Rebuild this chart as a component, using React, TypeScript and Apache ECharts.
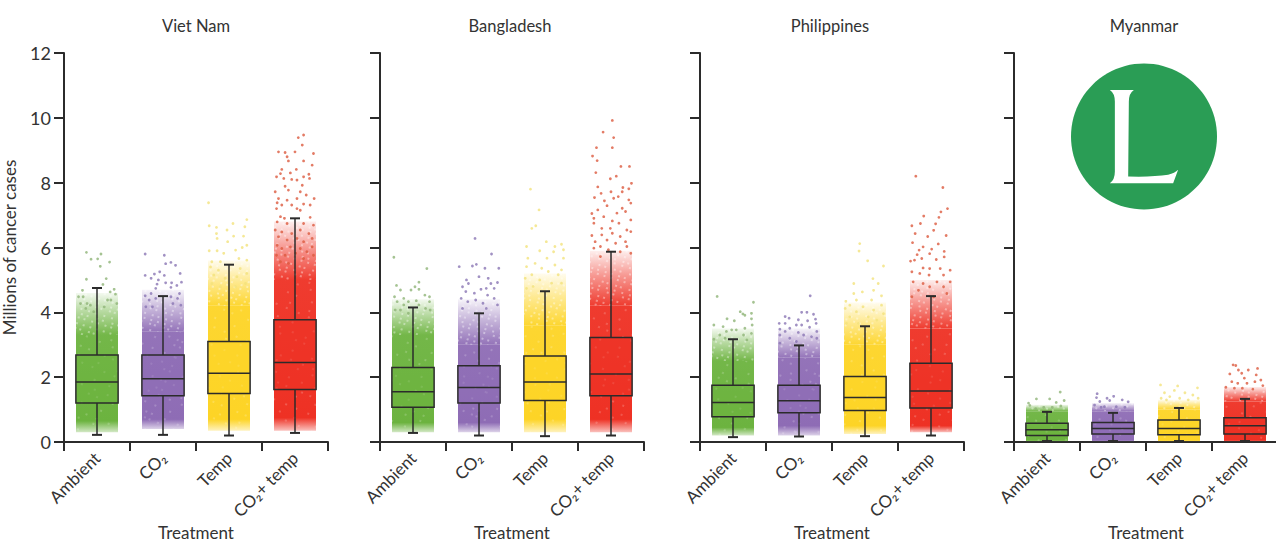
import React, { useEffect, useRef } from "react";
import * as echarts from "echarts";

const countries = ["Viet Nam", "Bangladesh", "Philippines", "Myanmar"];
const treatments = ["Ambient", "CO₂", "Temp", "CO₂+ temp"];
const yTickMax = 12;

// whisker low, Q1, median, Q3, whisker high
const boxesVietNam = [[0.22, 1.2, 1.85, 2.68, 4.75], [0.22, 1.43, 1.95, 2.68, 4.5], [0.2, 1.5, 2.12, 3.1, 5.47], [0.28, 1.62, 2.45, 3.77, 6.9]];
const boxesBangladesh = [[0.28, 1.07, 1.55, 2.3, 4.15], [0.2, 1.2, 1.68, 2.35, 3.97], [0.18, 1.28, 1.85, 2.65, 4.65], [0.2, 1.43, 2.1, 3.22, 5.87]];
const boxesPhilippines = [[0.15, 0.78, 1.22, 1.75, 3.17], [0.17, 0.9, 1.27, 1.75, 2.98], [0.18, 0.97, 1.37, 2.02, 3.57], [0.2, 1.05, 1.57, 2.43, 4.5]];
const boxesMyanmar = [[0.03, 0.2, 0.38, 0.58, 0.93], [0.03, 0.25, 0.42, 0.6, 0.9], [0.03, 0.22, 0.42, 0.68, 1.05], [0.03, 0.25, 0.5, 0.75, 1.33]];

// dense part of each cloud: lowest dots, start of solid colour, end of solid colour, end of dense dots
const denseVietNam = [[0.3, 0.65, 3.3, 4.6], [0.4, 0.7, 3.4, 4.7], [0.35, 0.7, 4.2, 5.6], [0.35, 0.75, 5.0, 6.8]];
const denseBangladesh = [[0.3, 0.6, 3.3, 4.4], [0.3, 0.6, 3.0, 4.4], [0.3, 0.7, 3.6, 5.2], [0.3, 0.7, 4.2, 5.9]];
const densePhilippines = [[0.2, 0.45, 2.5, 3.5], [0.2, 0.5, 2.6, 3.5], [0.25, 0.5, 3.0, 4.3], [0.3, 0.5, 3.5, 5.0]];
const denseMyanmar = [[0.02, 0.05, 0.95, 1.15], [0.02, 0.05, 0.95, 1.2], [0.02, 0.05, 1.0, 1.3], [0.02, 0.05, 1.25, 1.7]];

// separate dots: [sideways offset in the band, value]
const dotsVietNam = [
  [[-.16,5.85],[.06,5.8],[-.09,5.64],[.01,5.65],[.19,5.55],[.05,5.42],[-.16,5.02],[.14,5.04],[.09,4.86],[-.22,4.68],[.26,4.71],[.2,4.63],[.28,4.56],[-.28,4.48],[-.21,4.48],[.16,4.38],[.3,4.27],[-.25,4.27],[-.15,4.27],[.11,4.17],[-.17,4.12],[-.05,4.02],[.21,4.38],[-.1,4.22]],
  [[-.27,5.8],[.02,5.76],[.04,5.5],[.12,5.54],[.19,5.45],[-.05,5.25],[.26,5.2],[-.27,5.14],[-.13,5.18],[-.18,5.05],[.02,5.14],[-.07,5.0],[-.09,4.87],[.04,4.91],[.13,4.91],[.28,4.93],[.21,4.83],[-.27,4.51],[-.18,4.58],[-.11,4.74],[.12,4.77],[.25,4.58],[-.21,4.38],[.22,4.43],[-.11,4.43],[.12,4.48],[-.26,4.17],[.27,4.22],[-.16,4.17],[.15,4.27]],
  [[-.31,7.38],[-.3,6.67],[.27,6.86],[.06,6.74],[.24,6.64],[-.19,6.62],[-.19,6.43],[-.03,6.54],[-.18,6.28],[.07,6.35],[.22,6.35],[-.02,6.18],[.27,6.07],[-.3,5.9],[-.18,5.9],[.1,5.92],[.2,6.0],[-.08,5.82],[.15,5.66],[-.26,5.56],[.27,5.61],[-.13,5.56],[-.28,5.4],[-.16,5.3],[.17,5.35],[.27,5.2],[-.23,5.15],[-.06,5.05],[.12,5.1],[.25,4.89],[-.26,4.89],[-.13,4.79],[.1,4.79]],
  [[.13,9.47],[.05,9.39],[.11,9.16],[-.25,8.95],[-.15,8.93],[0,8.95],[.28,8.9],[-.12,8.8],[-.1,8.67],[.13,8.67],[.26,8.54],[-.2,8.41],[.02,8.41],[-.22,8.28],[-.28,8.18],[-.07,8.3],[.21,8.26],[.13,8.18],[.22,8.13],[-.05,8.1],[.03,8.08],[-.17,8.13],[-.15,7.89],[.11,7.92],[-.3,7.72],[-.1,7.77],[.08,7.72],[.17,7.62],[-.25,7.51],[-.12,7.46],[.29,7.51],[.03,7.51],[-.27,7.38],[-.2,7.31],[-.05,7.31],[.13,7.34],[.23,7.31],[-.28,7.2],[.03,7.2],[.08,7.15],[-.22,6.95],[-.16,6.9],[.23,6.93],[-.27,6.79],[-.12,6.74],[.13,6.74],[.28,6.69],[-.3,6.54],[-.2,6.48],[-.05,6.43],[.08,6.54],[.21,6.43],[.26,6.28],[-.25,6.33],[-.12,6.23],[.03,6.28],[.13,6.18],[-.27,6.07],[-.2,5.97],[-.07,6.02],[.26,6.02],[.08,5.97],[.18,5.87],[-.28,5.76],[-.15,5.76],[.01,5.82],[.28,5.76],[-.22,5.56],[.13,5.66],[-.1,5.51]],
];
const dotsBangladesh = [
  [[-.29,5.7],[.21,5.35],[.09,4.93],[-.25,4.83],[.03,4.79],[-.19,4.69],[-.03,4.69],[.09,4.71],[.18,4.53],[.25,4.48],[-.28,4.48],[-.14,4.43],[.05,4.36],[-.24,4.33],[-.07,4.33],[.25,4.33],[-.14,4.23],[.09,4.23],[-.27,4.07],[.19,4.12],[-.19,4.07],[.26,4.07],[-.07,3.97]],
  [[-.06,6.28],[.19,5.8],[-.3,5.41],[-.1,5.43],[-.04,5.48],[.09,5.36],[.3,5.36],[0,5.1],[.14,5.05],[-.19,5.0],[-.16,4.89],[.18,4.89],[.28,4.92],[-.25,4.79],[.03,4.71],[.11,4.74],[.23,4.74],[-.2,4.64],[-.07,4.59],[.13,4.53],[-.27,4.43],[-.05,4.38],[.23,4.43],[-.17,4.33],[.06,4.28],[.28,4.23],[-.25,4.12],[.11,4.12]],
  [[-.22,7.8],[-.09,7.16],[-.14,6.67],[-.2,6.59],[.02,6.18],[-.28,6.03],[.25,6.1],[.15,6.03],[.28,5.93],[-.08,5.9],[.13,5.87],[-.26,5.67],[.03,5.67],[.28,5.67],[-.15,5.51],[.15,5.46],[-.28,5.41],[-.05,5.36],[.25,5.31],[.05,5.26],[-.2,5.16],[.2,5.16],[-.3,5.05],[-.08,5.0],[.1,4.9],[.25,4.9],[-.18,4.8],[-.28,4.74]],
  [[.02,9.92],[-.12,9.56],[.04,9.39],[-.22,9.08],[.02,9.08],[-.28,8.82],[-.21,8.68],[.15,8.5],[.28,8.5],[-.23,8.31],[.08,8.2],[-.01,8.12],[.31,7.98],[-.2,7.87],[.18,7.85],[0,7.72],[.17,7.72],[-.15,7.67],[.27,7.81],[-.25,7.54],[.11,7.57],[.04,7.52],[.27,7.47],[-.1,7.44],[.3,7.37],[-.06,7.29],[.17,7.21],[-.2,7.16],[-.29,7.05],[.09,7.06],[.22,7.11],[-.26,6.9],[-.11,6.95],[.02,6.82],[.12,6.75],[.3,6.85],[-.26,6.75],[-.14,6.59],[-.01,6.59],[.24,6.54],[-.29,6.37],[-.14,6.39],[.02,6.44],[.14,6.34],[.3,6.49],[-.24,6.18],[-.06,6.23],[.22,6.18],[.07,6.13],[-.16,6.03],[.24,6.03],[-.26,5.98],[-.04,5.93],[.14,5.87],[.3,5.82],[-.16,5.72]],
];
const dotsPhilippines = [
  [[-.24,4.49],[.31,4.31],[.11,4.02],[.15,3.95],[.18,3.91],[.28,3.97],[.28,3.8],[-.09,3.8],[.02,3.74],[-.29,3.61],[-.15,3.56],[.29,3.61],[.18,3.51],[-.02,3.46],[.05,3.46],[-.1,3.41],[.28,3.35],[-.2,3.3],[.16,3.3],[-.29,3.17],[-.12,3.2],[.21,3.15]],
  [[.17,4.51],[.04,4.0],[.12,4.0],[.22,3.94],[-.21,3.87],[-.15,3.82],[.25,3.79],[-.01,3.77],[.13,3.74],[-.3,3.66],[-.21,3.66],[-.04,3.61],[.26,3.66],[.04,3.61],[-.29,3.48],[-.14,3.51],[.16,3.54],[.27,3.41],[-.21,3.41],[-.01,3.38],[-.29,3.3],[.07,3.3],[.19,3.25],[-.14,3.2],[.27,3.2],[-.29,3.05],[-.04,3.1]],
  [[-.08,6.12],[-.09,5.89],[.04,5.59],[.28,5.43],[.12,5.04],[-.17,4.89],[.2,4.89],[.13,4.68],[-.04,4.63],[-.17,4.58],[.25,4.51],[-.29,4.34],[-.13,4.38],[.1,4.38],[.25,4.22],[-.23,4.22],[-.03,4.17],[-.3,4.12],[.13,4.07],[-.13,4.02],[.28,3.96],[-.23,3.86],[.05,3.86],[.18,3.76],[-.28,3.66],[-.1,3.66]],
  [[-.23,8.2],[.18,7.85],[.25,7.2],[.15,7.1],[.12,6.93],[-.11,6.97],[.07,6.73],[-.29,6.67],[-.16,6.74],[.04,6.53],[-.24,6.43],[.23,6.37],[-.05,6.34],[-.28,6.15],[.11,6.11],[-.12,6.02],[-.18,5.92],[.01,5.95],[.2,5.88],[-.02,5.81],[-.21,5.78],[.2,5.71],[-.31,5.58],[-.25,5.61],[-.14,5.66],[.08,5.63],[.14,5.35],[-.12,5.37],[-.02,5.35],[-.29,5.25],[.29,5.3],[-.17,5.2],[-.03,5.15],[.19,5.15],[-.27,4.94],[.09,4.94],[-.12,4.89],[.29,4.94],[-.02,4.79],[.19,4.79],[-.19,4.68],[-.29,4.48],[.24,4.58],[.04,4.48]],
];
const dotsMyanmar = [
  [[.2,1.54],[-.16,1.33],[.04,1.33],[-.28,1.2],[-.26,1.13],[.14,1.22],[.26,1.28],[-.05,1.07],[.21,1.11],[.08,1.07],[-.17,1.03]],
  [[-.24,1.49],[-.25,1.37],[.01,1.41],[-.09,1.35],[.14,1.3],[.23,1.24],[-.2,1.25],[-.05,1.28],[-.28,1.14],[-.13,1.09],[.05,1.09],[.18,1.07],[-.18,1.07]],
  [[-.28,1.76],[-.02,1.73],[.28,1.67],[-.22,1.52],[.09,1.52],[-.07,1.59],[.21,1.45],[-.27,1.35],[-.14,1.4],[.01,1.35],[.29,1.35],[.14,1.3],[-.19,1.3]],
  [[-.18,2.38],[-.14,2.36],[.19,2.27],[-.1,2.22],[-.05,2.12],[.05,2.22],[-.23,2.1],[.17,2.07],[.24,1.91],[-.2,1.86],[-.01,1.97],[.03,1.81],[.27,1.74],[-.11,1.81],[.15,1.86],[-.29,1.69],[-.16,1.66],[.12,1.63],[-.04,1.66]],
];

const allBoxes = [boxesVietNam, boxesBangladesh, boxesPhilippines, boxesMyanmar];
const allDense = [denseVietNam, denseBangladesh, densePhilippines, denseMyanmar];
const allDots = [dotsVietNam, dotsBangladesh, dotsPhilippines, dotsMyanmar];

const gridLefts = [64, 380, 700, 1014];
const titleCentres = [191, 505, 825, 1139];
const rgb = ["108,179,63", "142,108,181", "253,212,38", "238,49,36"];
const dotColors = ["#8fb477", "#8a76b4", "#f2e27c", "#dc5a3e"];
const ink = "#2b2b2b";
const font = "Lato, 'Noto Sans', sans-serif";
const halfWidth = 0.32;

const logoPath =
  "M390 150 L462 150 Q447 160 447 185 L445 410 Q520 412 565 405 Q585 400 595 390 L580 430 L390 430 Q405 420 405 395 L405 185 Q405 160 390 150 Z";
echarts.graphic.registerShape("lancetL", echarts.graphic.extendPath(logoPath as any, {}) as any);

// texture only: light specks across the colour, like the gaps between the dots in the reference
const speckSparse = {
  symbol: "circle",
  symbolSize: 0.6,
  color: "rgba(255,255,255,0.55)",
  dashArrayX: [[2, 12], [2, 7, 2, 15], [2, 19], [2, 9, 2, 11], [2, 14, 2, 21]],
  dashArrayY: [2, 7, 2, 4, 2, 9],
  rotation: 0.4,
  maxTileWidth: 300,
  maxTileHeight: 300,
};
const speckDense = {
  symbol: "circle",
  symbolSize: 0.8,
  color: "rgba(255,255,255,0.6)",
  dashArrayX: [[2, 5], [2, 3, 2, 7], [2, 6], [2, 8, 2, 4], [2, 4, 2, 6]],
  dashArrayY: [2, 3, 2, 2, 2, 4],
  rotation: 0.3,
  maxTileWidth: 300,
  maxTileHeight: 300,
};

function lowerFill(d: number[], i: number) {
  const [fb, sb, st] = d;
  const c = rgb[i];
  return new echarts.graphic.LinearGradient(0, 0, 0, 1, [
    { offset: 0, color: `rgba(${c},0.95)` },
    { offset: (st - sb) / (st - fb), color: `rgba(${c},1)` },
    { offset: 1, color: `rgba(${c},0.3)` },
  ]);
}

function upperFill(i: number) {
  const c = rgb[i];
  return new echarts.graphic.LinearGradient(0, 0, 0, 1, [
    { offset: 0, color: `rgba(${c},0.08)` },
    { offset: 0.45, color: `rgba(${c},0.5)` },
    { offset: 1, color: `rgba(${c},0.95)` },
  ]);
}

function renderBox(params: any, api: any) {
  const i = api.value(0);
  const x = i + 0.5;
  const lo = api.coord([x, api.value(1)]);
  const q1 = api.coord([x, api.value(2)]);
  const med = api.coord([x, api.value(3)]);
  const q3 = api.coord([x, api.value(4)]);
  const hi = api.coord([x, api.value(5)]);
  const w = api.coord([x + halfWidth, 0])[0] - lo[0];
  const cap = 5;
  const line = (x1: number, y1: number, x2: number, y2: number, width = 1.5) => ({
    type: "line",
    shape: { x1, y1, x2, y2 },
    style: { stroke: ink, lineWidth: width, fill: null },
  });
  return {
    type: "group",
    children: [
      line(lo[0], hi[1], lo[0], q3[1]),
      line(lo[0], q1[1], lo[0], lo[1]),
      line(lo[0] - cap, hi[1], lo[0] + cap, hi[1], 2),
      line(lo[0] - cap, lo[1], lo[0] + cap, lo[1], 2),
      {
        type: "rect",
        shape: { x: lo[0] - w, y: q3[1], width: 2 * w, height: q1[1] - q3[1] },
        style: { fill: `rgba(${rgb[i]},0.45)`, stroke: ink, lineWidth: 1.5 },
      },
      line(lo[0] - w, med[1], lo[0] + w, med[1]),
    ],
  };
}

function buildOption() {
  const grid: any[] = [], xAxis: any[] = [], yAxis: any[] = [], series: any[] = [], title: any[] = [];
  const axisLine = { show: true, lineStyle: { color: ink, width: 2 } };
  countries.forEach((name, p) => {
    const left = gridLefts[p];
    grid.push({ left, top: 53, width: 264, height: 389, outerBoundsMode: "none" });
    title.push({
      text: name,
      left: titleCentres[p],
      top: 12,
      textAlign: "center",
      textStyle: { fontFamily: font, fontSize: 16.5, fontWeight: "normal", color: "#333" },
    });
    xAxis.push({
      type: "category",
      gridIndex: p,
      data: treatments,
      name: "Treatment",
      nameLocation: "middle",
      nameGap: 82,
      nameMoveOverlap: false,
      nameTextStyle: { fontFamily: font, fontSize: 17, color: "#333" },
      axisLine,
      axisTick: { show: true, length: 9, lineStyle: { color: ink, width: 2 } },
      axisLabel: { rotate: 45, margin: 13, interval: 0, fontFamily: font, fontSize: 17, color: "#333" },
      splitLine: { show: false },
    });
    xAxis.push({ type: "value", gridIndex: p, min: 0, max: 4, show: false });
    yAxis.push({
      type: "value",
      gridIndex: p,
      min: 0,
      max: yTickMax,
      interval: 2,
      name: p === 0 ? "Millions of cancer cases" : "",
      nameLocation: "middle",
      nameGap: 46,
      nameMoveOverlap: false,
      nameTextStyle: { fontFamily: font, fontSize: 17, color: "#333" },
      axisLine,
      axisTick: { show: true, length: 10, lineStyle: { color: ink, width: 2 } },
      axisLabel: { show: p === 0, margin: 13, fontFamily: font, fontSize: 18, color: "#333" },
      splitLine: { show: false },
    });
    const xIndex = p * 2 + 1;
    const stack = "cloud" + p;
    const barBase = { type: "bar", xAxisIndex: p * 2, yAxisIndex: p, stack, barWidth: 42, z: 1, silent: true };
    series.push({
      ...barBase,
      itemStyle: { color: "rgba(0,0,0,0)" },
      data: allDense[p].map((d) => d[0]),
    });
    series.push({
      ...barBase,
      itemStyle: { decal: speckSparse },
      data: allDense[p].map((d, i) => ({ value: d[2] - d[0], itemStyle: { color: lowerFill(d, i) } })),
    });
    series.push({
      ...barBase,
      itemStyle: { decal: speckDense },
      data: allDense[p].map((d, i) => ({ value: d[3] - d[2], itemStyle: { color: upperFill(i) } })),
    });
    allDots[p].forEach((dots, i) => {
      series.push({
        type: "scatter",
        xAxisIndex: xIndex,
        yAxisIndex: p,
        z: 2,
        silent: true,
        symbolSize: 2.8,
        itemStyle: { color: dotColors[i] },
        data: dots.map(([dx, v]) => [i + 0.5 + dx, v]),
      });
    });
    series.push({
      type: "custom",
      xAxisIndex: xIndex,
      yAxisIndex: p,
      z: 3,
      silent: true,
      renderItem: renderBox,
      data: allBoxes[p].map((b, i) => [i, ...b]),
    });
  });
  return {
    animation: false,
    backgroundColor: "#fff",
    title,
    grid,
    xAxis,
    yAxis,
    series,
    graphic: [
      { type: "circle", shape: { cx: 1144, cy: 136.5, r: 73 }, style: { fill: "#2a9d55" }, z: 10 },
      { type: "lancetL", x: 980, y: 40, scaleX: 1 / 3, scaleY: 1 / 3, style: { fill: "#fff" }, z: 11 },
    ],
  };
}

export default function App() {
  const ref = useRef<HTMLDivElement>(null);
  useEffect(() => {
    const chart = echarts.init(ref.current!, undefined, { renderer: "svg" });
    chart.setOption(buildOption() as any);
    return () => chart.dispose();
  }, []);
  return <div ref={ref} style={{ position: "absolute", left: 0, top: 0, width: 1276, height: 544 }} />;
}
